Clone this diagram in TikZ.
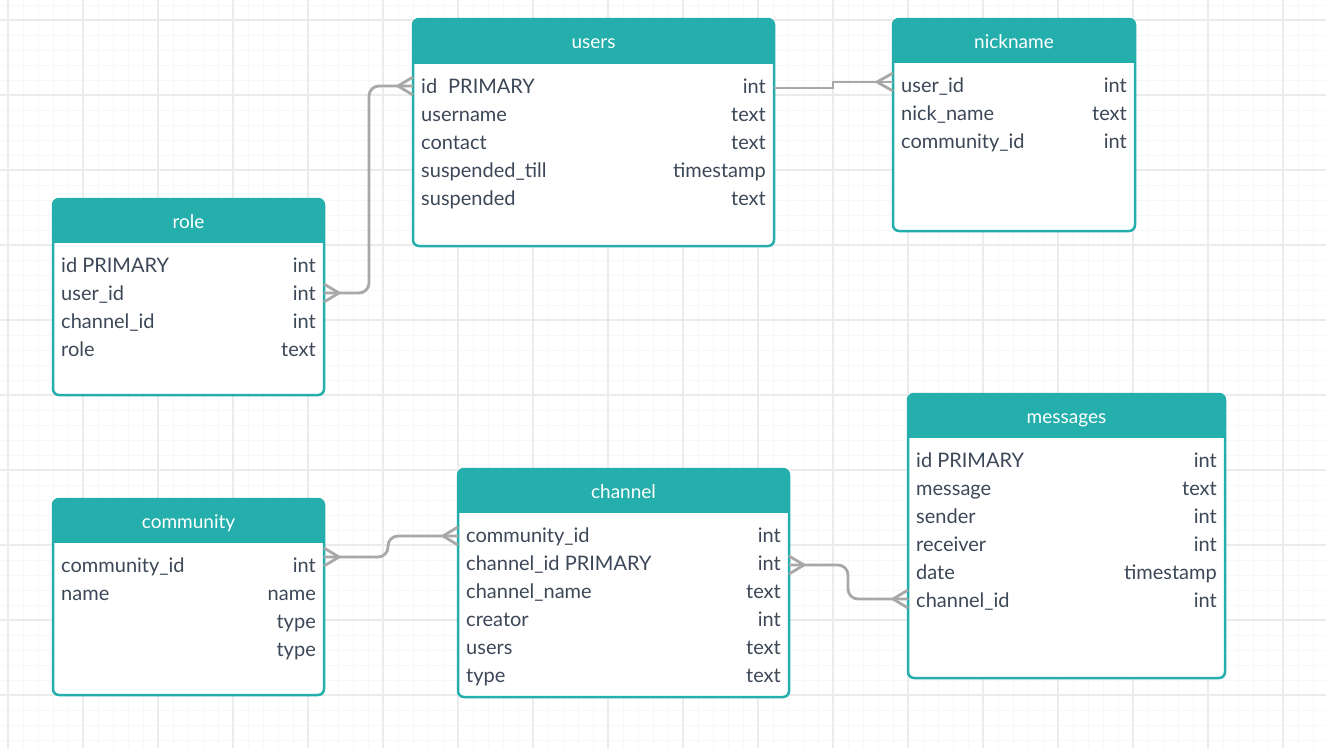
\documentclass[tikz,border=0pt]{standalone}
\usepackage{fontspec}
\setmainfont{Lato}
\usetikzlibrary{calc}

\definecolor{erteal}{RGB}{36,175,172}
\definecolor{erink}{RGB}{60,72,88}
\definecolor{erwire}{RGB}{168,168,168}
\definecolor{gridminor}{RGB}{247,247,247}
\definecolor{gridmajor}{RGB}{235,235,235}

\tikzset{
  tablebody/.style={rectangle, fill=white, rounded corners=6pt, inner sep=0pt, outer sep=0pt, anchor=north west},
  tableframe/.style={draw=erteal, line width=2.5pt, rounded corners=6pt},
  titletext/.style={text=white, font=\fontsize{19}{19}\selectfont, inner sep=0pt, text height=16pt, text depth=2pt},
  fieldname/.style={anchor=west, text=erink, font=\fontsize{20}{20}\selectfont, inner sep=0pt, text height=16pt, text depth=2pt},
  fieldtype/.style={fieldname, anchor=east},
  conn/.style={draw=erwire, line width=2.8pt},
  minorline/.style={draw=gridminor, line width=1pt},
  majorline/.style={draw=gridmajor, line width=1.2pt},
}

% #1 name, #2 left, #3 top, #4 right, #5 bottom, #6 header bottom, #7 title, #8 fields (name/type)
\newcommand\ertable[8]{%
  \node[tablebody, minimum width={(#4-#2)*1pt}, minimum height={(#5-#3)*1pt}] (#1) at (#2,#3) {};
  \begin{scope}
    \clip[rounded corners=6pt] (#1.north west) rectangle (#1.south east);
    \fill[erteal] (#1.north west) rectangle (#4,#6);
  \end{scope}
  \draw[tableframe] (#1.north west) rectangle (#1.south east);
  \node[titletext] (#1-title) at ({(#2+#4)/2},{(#3+#6)/2}) {#7};
  \foreach \fn/\ft [count=\i] in {#8} {
    \node[fieldname] (#1-f\i) at ({#2+8},{#6+22+(\i-1)*28}) {\fn};
    \node[fieldtype] (#1-t\i) at ({#4-8},{#6+22+(\i-1)*28}) {\ft};
  }%
}

% crow's foot at an entity end; #2 is the reach of the prongs
\newcommand\crowfoot[2]{%
  \draw[conn] ($(#1)+(0,-9)$) -- ($(#1)+(#2,0)$) -- ($(#1)+(0,9)$);
}

\begin{document}
\begin{tikzpicture}[x=1pt, y=-1pt]
  \useasboundingbox (0,0) rectangle (1326,748);
  \fill[white] (0,0) rectangle (1326,748);

  % background grid
  \foreach \x in {8,23,...,1326} \draw[minorline] (\x,0) -- (\x,748);
  \foreach \y in {5,20,...,748} \draw[minorline] (0,\y) -- (1326,\y);
  \foreach \x in {8,83,...,1326} \draw[majorline] (\x,0) -- (\x,748);
  \foreach \y in {20,95,...,748} \draw[majorline] (0,\y) -- (1326,\y);

  % tables
  \ertable{users}{413}{19}{774}{246}{64}{users}
    {id\hspace{11pt}PRIMARY/int, username/text, contact/text, suspended\_till/timestamp, suspended/text}
  \ertable{nickname}{893}{19}{1135}{231}{63}{nickname}
    {user\_id/int, nick\_name/text, community\_id/int}
  \ertable{role}{53}{199}{324}{395}{243}{role}
    {id PRIMARY/int, user\_id/int, channel\_id/int, role/text}
  \ertable{community}{53}{499}{324}{695}{543}{community}
    {community\_id/int, name/name, /type, /type}
  \ertable{channel}{458}{469}{789}{697}{513}{channel}
    {community\_id/int, channel\_id PRIMARY/int, channel\_name/text, creator/int, users/text, type/text}
  \ertable{messages}{908}{394}{1225}{678}{438}{messages}
    {id PRIMARY/int, message/text, sender/int, receiver/int, date/timestamp, channel\_id/int}

  % role.user_id -- users.id
  \coordinate (e1a) at (role.east |- role-f2);
  \coordinate (e1b) at (users.west |- users-f1);
  \draw[conn, rounded corners=10pt] (e1a) -- ++(45,0) |- (e1b);
  \crowfoot{e1a}{15}
  \crowfoot{e1b}{-15}

  % users.id -- nickname.user_id
  \coordinate (e2a) at ($(users.east |- users-f1)+(0,2)$);
  \coordinate (e2b) at ($(nickname.west |- nickname-f1)+(0,-3)$);
  \draw[conn] (e2a) -- ++(59,0) |- (e2b);
  \crowfoot{e2b}{-16}

  % community.community_id -- channel.community_id
  \coordinate (e3a) at ($(community.east |- community-f1)+(0,-8)$);
  \coordinate (e3b) at ($(channel.west |- channel-f1)+(0,1)$);
  \draw[conn, rounded corners=10pt] (e3a) -- ++(64,0) |- (e3b);
  \crowfoot{e3a}{15}
  \crowfoot{e3b}{-15}

  % channel.channel_id -- messages.channel_id
  \coordinate (e4a) at ($(channel.east |- channel-f2)+(0,2)$);
  \coordinate (e4b) at ($(messages.west |- messages-f6)+(0,-1)$);
  \draw[conn, rounded corners=10pt] (e4a) -- ++(59,0) |- (e4b);
  \crowfoot{e4a}{15}
  \crowfoot{e4b}{-15}
\end{tikzpicture}
\end{document}
